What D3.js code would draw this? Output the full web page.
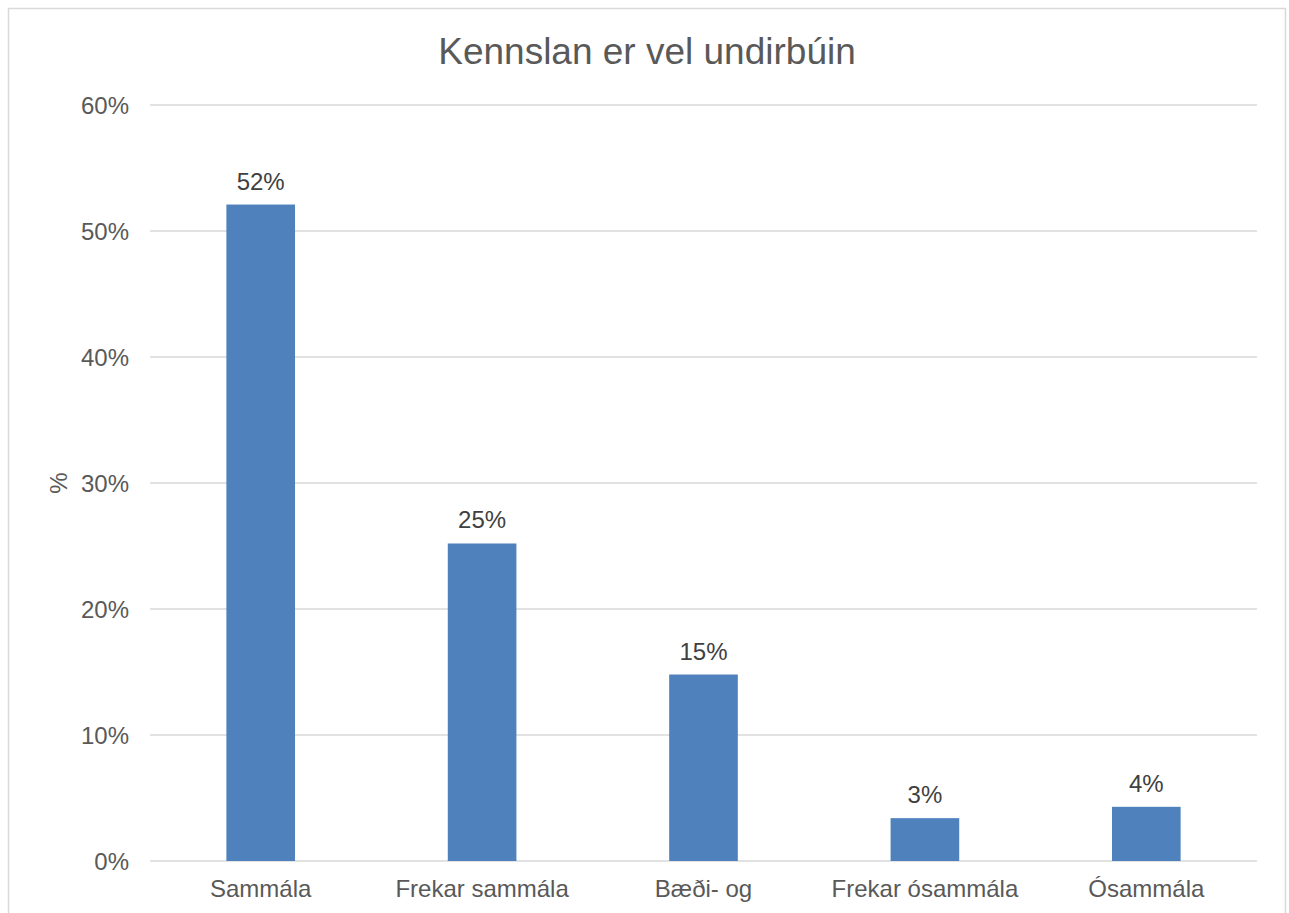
<!DOCTYPE html>
<html>
<head>
<meta charset="utf-8">
<script src="https://cdn.jsdelivr.net/npm/d3@7"></script>
<style>
  html, body { margin: 0; padding: 0; background: #fff; }
  svg { display: block; }
  text { font-family: "Liberation Sans", Arial, sans-serif; }
</style>
</head>
<body>
<svg id="chart" width="1289" height="913"></svg>
<script>
const categories = ["Sammála", "Frekar sammála", "Bæði- og", "Frekar ósammála", "Ósammála"];
const values = [0.521, 0.252, 0.148, 0.034, 0.043];
const dataLabels = ["52%", "25%", "15%", "3%", "4%"];
const yTicks = [0, 0.1, 0.2, 0.3, 0.4, 0.5, 0.6];
const title = "Kennslan er vel undirbúin";
const yAxisTitle = "%";

const svg = d3.select("#chart");
const plot = { left: 150, right: 1257, top: 105, bottom: 861 };

svg.append("rect").attr("x", 8.5).attr("y", 8.5).attr("width", 1277).attr("height", 920)
  .attr("fill", "#fff").attr("stroke", "#d9d9d9").attr("stroke-width", 1.5);

const x = d3.scaleBand().domain(categories).range([plot.left, plot.right]).paddingInner(0.69).paddingOuter(0.345);
const y = d3.scaleLinear().domain([0, 0.6]).range([plot.bottom, plot.top]);

// gridlines
svg.append("g").selectAll("line").data(yTicks).join("line")
  .attr("x1", plot.left).attr("x2", plot.right)
  .attr("y1", d => y(d)).attr("y2", d => y(d))
  .attr("stroke", "#d9d9d9").attr("stroke-width", 1.5);

// y axis labels
const yAxis = d3.axisLeft(y).tickValues(yTicks).tickFormat(d3.format(".0%")).tickSize(0).tickPadding(0);
const yg = svg.append("g").attr("transform", `translate(${plot.left - 21},0)`).call(yAxis);
yg.select(".domain").remove();
yg.selectAll("text").attr("font-size", 24).attr("fill", "#595959")
  .attr("font-family", "Liberation Sans, Arial, sans-serif").attr("dy", "0.35em");

// bars
svg.append("g").selectAll("rect").data(categories).join("rect")
  .attr("x", d => x(d)).attr("width", x.bandwidth())
  .attr("y", (d, i) => y(values[i])).attr("height", (d, i) => y(0) - y(values[i]))
  .attr("fill", "#4f81bd");

// data labels
svg.append("g").selectAll("text").data(categories).join("text")
  .attr("x", d => x(d) + x.bandwidth() / 2)
  .attr("y", (d, i) => y(values[i]) - 15)
  .attr("text-anchor", "middle").attr("font-size", 24).attr("fill", "#404040")
  .text((d, i) => dataLabels[i]);

// x axis labels
const xAxis = d3.axisBottom(x).tickSize(0).tickPadding(0);
const xg = svg.append("g").attr("transform", `translate(0,${plot.bottom + 28})`).call(xAxis);
xg.select(".domain").remove();
xg.selectAll("text").attr("font-size", 24).attr("fill", "#595959")
  .attr("font-family", "Liberation Sans, Arial, sans-serif").attr("dy", "0.35em");

// title
svg.append("text").attr("x", 647).attr("y", 64).attr("text-anchor", "middle")
  .attr("font-size", 37).attr("fill", "#595959").text(title);

// y axis title
svg.append("text").attr("transform", `translate(67,${(plot.top + plot.bottom) / 2}) rotate(-90)`)
  .attr("text-anchor", "middle").attr("font-size", 24).attr("fill", "#595959").text(yAxisTitle);
</script>
</body>
</html>
